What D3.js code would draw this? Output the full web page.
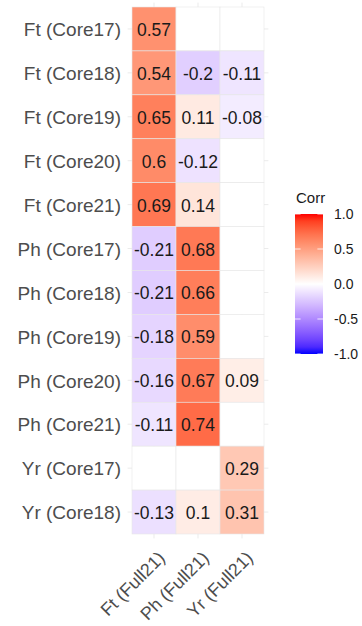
<!DOCTYPE html>
<html>
<head>
<meta charset="utf-8">
<script src="https://cdn.jsdelivr.net/npm/d3@7"></script>
<style>
  html, body { margin: 0; padding: 0; background: #fff; }
  svg { display: block; font-family: "Liberation Sans", Arial, sans-serif; }
</style>
</head>
<body>
<svg id="chart" width="362" height="626"></svg>
<script>
// Correlation matrix: core-set traits (rows) against full-set traits (columns)
const rowLabels = [
  "Ft (Core17)", "Ft (Core18)", "Ft (Core19)", "Ft (Core20)", "Ft (Core21)",
  "Ph (Core17)", "Ph (Core18)", "Ph (Core19)", "Ph (Core20)", "Ph (Core21)",
  "Yr (Core17)", "Yr (Core18)"
];
const colLabels = ["Ft (Full21)", "Ph (Full21)", "Yr (Full21)"];

// One array per column; null = no correlation shown
const ftFull21 = [0.57, 0.54, 0.65, 0.6, 0.69, -0.21, -0.21, -0.18, -0.16, -0.11, null, -0.13];
const phFull21 = [null, -0.2, 0.11, -0.12, 0.14, 0.68, 0.66, 0.59, 0.67, 0.74, null, 0.1];
const yrFull21 = [null, -0.11, -0.08, null, null, null, null, null, 0.09, null, 0.29, 0.31];

const legendTicks = [1.0, 0.5, 0.0, -0.5, -1.0];
const legendTitle = "Corr";

const columns = [ftFull21, phFull21, yrFull21];
const cells = [];
columns.forEach((vals, ci) => {
  vals.forEach((v, ri) => cells.push({ row: rowLabels[ri], col: colLabels[ci], value: v }));
});

const svg = d3.select("#chart");

const x = d3.scaleBand().domain(colLabels).range([132, 264]).padding(0);
const y = d3.scaleBand().domain(rowLabels).range([7, 534]).padding(0);
const fill = d3.scaleLinear()
  .domain([-1, 0, 1])
  .range(["#0000ff", "#ffffff", "#ff0000"])
  .interpolate(d3.interpolateLab);

// panel extends a little beyond the outer tiles
const padX = x.bandwidth() * 0.1, padY = y.bandwidth() * 0.1;
const grid = svg.append("g").attr("stroke", "#ebebeb").attr("stroke-width", 1);
grid.selectAll("line.h").data(rowLabels).join("line")
  .attr("x1", 132 - padX).attr("x2", 264 + padX)
  .attr("y1", d => y(d) + y.bandwidth() / 2).attr("y2", d => y(d) + y.bandwidth() / 2);
grid.selectAll("line.v").data(colLabels).join("line")
  .attr("y1", 7 - padY).attr("y2", 534 + padY)
  .attr("x1", d => x(d) + x.bandwidth() / 2).attr("x2", d => x(d) + x.bandwidth() / 2);

// tiles
svg.append("g").selectAll("rect").data(cells).join("rect")
  .attr("x", d => x(d.col)).attr("y", d => y(d.row))
  .attr("width", x.bandwidth()).attr("height", y.bandwidth())
  .attr("fill", d => d.value == null ? "#ffffff" : fill(d.value))
  .attr("stroke", "#e6e6e6").attr("stroke-width", 0.6);

// values inside tiles
svg.append("g").selectAll("text").data(cells.filter(d => d.value != null)).join("text")
  .attr("x", d => x(d.col) + x.bandwidth() / 2)
  .attr("y", d => y(d.row) + y.bandwidth() / 2)
  .attr("dy", "0.4em")
  .attr("text-anchor", "middle")
  .attr("font-size", 17.5)
  .attr("fill", "#1a1a1a")
  .text(d => String(d.value));

// y axis labels
svg.append("g").selectAll("text").data(rowLabels).join("text")
  .attr("x", 121)
  .attr("y", d => y(d) + y.bandwidth() / 2)
  .attr("dy", "0.38em")
  .attr("text-anchor", "end")
  .attr("font-size", 19)
  .attr("fill", "#4d4d4d")
  .text(d => d);

// x axis labels, rotated 45°
svg.append("g").selectAll("text").data(colLabels).join("text")
  .attr("text-anchor", "end")
  .attr("font-size", 18)
  .attr("fill", "#4d4d4d")
  .attr("transform", d => `translate(${x(d) + x.bandwidth() / 2 + 12},${559}) rotate(-45)`)
  .text(d => d);

// colour bar legend
const barX = 295, barW = 28, barTop = 214, barBot = 354;
const ly = d3.scaleLinear().domain([1, -1]).range([barTop, barBot]);
const defs = svg.append("defs");
const grad = defs.append("linearGradient").attr("id", "corrGrad")
  .attr("x1", 0).attr("y1", 0).attr("x2", 0).attr("y2", 1);
d3.range(0, 21).forEach(i => {
  const t = i / 20;
  grad.append("stop").attr("offset", t).attr("stop-color", fill(1 - 2 * t));
});
const legend = svg.append("g");
legend.append("text")
  .attr("x", 296).attr("y", 203)
  .attr("font-size", 15).attr("fill", "#1a1a1a")
  .text(legendTitle);
legend.append("rect")
  .attr("x", barX).attr("y", barTop).attr("width", barW).attr("height", barBot - barTop)
  .attr("fill", "url(#corrGrad)");
legend.selectAll("line.tk").data(legendTicks.flatMap(v => [[v, 0], [v, 1]])).join("line")
  .attr("x1", d => d[1] ? barX + barW - barW / 5 : barX)
  .attr("x2", d => d[1] ? barX + barW : barX + barW / 5)
  .attr("y1", d => ly(d[0])).attr("y2", d => ly(d[0]))
  .attr("stroke", "#ffffff").attr("stroke-width", 0.8);
legend.selectAll("text.lab").data(legendTicks).join("text")
  .attr("x", 334).attr("y", d => ly(d))
  .attr("dy", "0.36em")
  .attr("font-size", 14).attr("fill", "#1a1a1a")
  .text(d => d.toFixed(1));
</script>
</body>
</html>
